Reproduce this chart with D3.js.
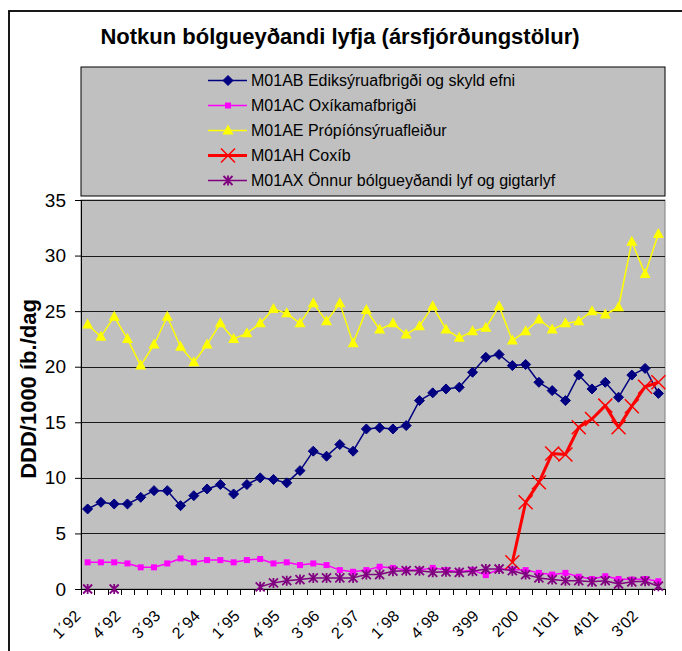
<!DOCTYPE html>
<html><head><meta charset="utf-8">
<script src="https://cdn.jsdelivr.net/npm/d3@7"></script>
<style>
html,body{margin:0;padding:0;background:#fff;}
svg{display:block;font-family:Arial,"Liberation Sans",sans-serif;}
</style></head>
<body>
<svg id="chart" width="682" height="651"></svg>
<script>
const categories = ["1´92","2´92","3´92","4´92","1´93","2´93","3´93","4´93","1´94","2´94","3´94","4´94",
  "1´95","2´95","3´95","4´95","1´96","2´96","3´96","4´96","1´97","2´97","3´97","4´97",
  "1´98","2´98","3´98","4´98","1'99","2'99","3'99","4'99","1'00","2'00","3'00","4'00",
  "1'01","2'01","3'01","4'01","1'02","2'02","3'02","4'02"];
const tickLabels = ["1´92","4´92","3´93","2´94","1´95","4´95","3´96","2´97","1´98","4´98","3'99","2'00","1'01","4'01","3'02"];
const yTicks = [0,5,10,15,20,25,30,35];

const m01ab = [7.2,7.8,7.65,7.65,8.25,8.85,8.85,7.5,8.4,9.0,9.4,8.55,9.4,10.0,9.85,9.55,10.65,12.4,11.95,13.0,12.4,14.4,14.5,14.4,
  14.7,16.95,17.65,18.0,18.15,19.5,20.85,21.1,20.1,20.2,18.6,17.85,16.95,19.25,18.0,18.6,17.25,19.25,19.85,17.6];
const m01ac = [2.4,2.4,2.4,2.3,1.95,1.95,2.3,2.75,2.4,2.6,2.6,2.4,2.6,2.7,2.3,2.4,2.15,2.3,2.15,1.7,1.55,1.7,2.0,1.9,
  1.7,1.7,1.9,1.7,1.55,1.7,1.25,1.8,1.75,1.7,1.45,1.3,1.45,1.1,0.9,1.15,0.9,0.85,0.9,0.7];
const m01ae = [23.8,22.7,24.5,22.5,20.1,22.0,24.5,21.8,20.4,22.0,23.9,22.5,23.0,23.9,25.2,24.8,23.9,25.7,24.1,25.7,22.1,25.1,23.35,23.9,
  22.9,23.65,25.45,23.35,22.6,23.2,23.5,25.45,22.35,23.2,24.25,23.35,23.9,24.1,25.0,24.7,25.35,31.25,28.35,31.95];
const m01ah = [null,null,null,null,null,null,null,null,null,null,null,null,null,null,null,null,null,null,null,null,null,null,null,null,
  null,null,null,null,null,null,null,null,2.4,7.8,9.6,12.2,12.1,14.55,15.3,16.5,14.55,16.45,18.2,18.6];
const m01ax = [0,null,0,null,null,null,null,null,null,null,null,null,null,0.2,0.55,0.75,0.85,1.0,1.0,1.0,1.0,1.3,1.3,1.6,
  1.65,1.65,1.5,1.55,1.5,1.6,1.8,1.8,1.65,1.3,1.0,0.85,0.75,0.75,0.65,0.75,0.45,0.65,0.7,0.25];

const seriesNames = ["M01AB Ediksýruafbrigði og skyld efni","M01AC Oxíkamafbrigði","M01AE Própíónsýruafleiður","M01AH Coxíb","M01AX Önnur bólgueyðandi lyf og gigtarlyf"];
const seriesColors = ["#000080","#ff00ff","#ffff00","#ff0000","#800080"];
const seriesMarkers = ["diamond","square","triangle","x","star"];
const seriesWidths = [1.5,1.5,1.5,3,1.5];
const seriesData = [m01ab,m01ac,m01ae,m01ah,m01ax];

const svg = d3.select("#chart");
const L = 81, R = 665, T = 200, B = 589;

// outer border
svg.append("rect").attr("x",9).attr("y",11).attr("width",700).attr("height",700)
  .attr("fill","#fff").attr("stroke","#000").attr("stroke-width",1.8);

// title
svg.append("text").attr("x",340).attr("y",44).attr("text-anchor","middle")
  .attr("font-weight","bold").attr("font-size",22).text("Notkun bólgueyðandi lyfja (ársfjórðungstölur)");

const x = d3.scalePoint().domain(categories).range([L,R]).padding(0.5);
const y = d3.scaleLinear().domain([0,35]).range([B,T]);
const step = x.step();

// plot area
svg.append("rect").attr("x",L).attr("y",T).attr("width",R-L).attr("height",B-T)
  .attr("fill","#c0c0c0").attr("stroke","#808080").attr("stroke-width",1);

// gridlines
svg.append("g").selectAll("line").data(yTicks.filter(d=>d>0)).join("line")
  .attr("x1",L).attr("x2",R).attr("y1",d=>Math.round(y(d))+0.5).attr("y2",d=>Math.round(y(d))+0.5)
  .attr("stroke","#1a1a1a").attr("stroke-width",1);

// y axis
const yAxis = svg.append("g").attr("transform",`translate(${L},0)`)
  .call(d3.axisLeft(y).tickValues(yTicks).tickSize(6).tickPadding(9));
yAxis.select(".domain").attr("stroke","#000");
yAxis.selectAll(".tick line").attr("stroke","#000");
yAxis.selectAll("text").attr("font-size",19).attr("font-family","Arial,'Liberation Sans',sans-serif").attr("fill","#000");

// x axis line + ticks at category boundaries
const xa = svg.append("g");
xa.append("line").attr("x1",L).attr("x2",R).attr("y1",B+0.5).attr("y2",B+0.5).attr("stroke","#000");
xa.selectAll("line.t").data(d3.range(categories.length+1)).join("line").attr("class","t")
  .attr("x1",i=>Math.round(x(categories[0]) - step/2 + i*step)+0.5)
  .attr("x2",i=>Math.round(x(categories[0]) - step/2 + i*step)+0.5)
  .attr("y1",B).attr("y2",B+6).attr("stroke","#000");
xa.selectAll("text").data(tickLabels).join("text")
  .attr("transform",d=>`translate(${x(d)-6},${B+28}) rotate(-45)`)
  .attr("text-anchor","end").attr("font-size",16).text(d=>d);

// y label
svg.append("text").attr("transform",`translate(36,389) rotate(-90)`)
  .attr("text-anchor","middle").attr("font-weight","bold").attr("font-size",22).text("DDD/1000 íb./dag");

// marker drawing
function drawMarker(g, type, color, cx, cy){
  if(type==="diamond"){
    g.append("path").attr("d",`M${cx},${cy-5}L${cx+5},${cy}L${cx},${cy+5}L${cx-5},${cy}Z`).attr("fill",color).attr("stroke",color);
  } else if(type==="square"){
    g.append("rect").attr("x",cx-3).attr("y",cy-3).attr("width",6).attr("height",6).attr("fill",color);
  } else if(type==="triangle"){
    g.append("path").attr("d",`M${cx},${cy-6}L${cx+5.5},${cy+4}L${cx-5.5},${cy+4}Z`).attr("fill",color);
  } else if(type==="x"){
    g.append("path").attr("d",`M${cx-7},${cy-7}L${cx+7},${cy+7}M${cx-7},${cy+7}L${cx+7},${cy-7}`).attr("stroke",color).attr("stroke-width",1.5);
  } else if(type==="star"){
    g.append("path").attr("d",`M${cx-4.5},${cy-4.5}L${cx+4.5},${cy+4.5}M${cx-4.5},${cy+4.5}L${cx+4.5},${cy-4.5}M${cx},${cy-5}L${cx},${cy+5}`).attr("stroke",color).attr("stroke-width",1.8);
  }
}

const line = d3.line().defined(d=>d.v!=null).x(d=>x(d.c)).y(d=>y(d.v));
seriesData.forEach((arr,si)=>{
  const pts = arr.map((v,i)=>({c:categories[i],v}));
  const g = svg.append("g");
  g.append("path").datum(pts).attr("d",line).attr("fill","none")
    .attr("stroke",seriesColors[si]).attr("stroke-width",seriesWidths[si]).attr("stroke-linejoin","round");
  pts.filter(p=>p.v!=null).forEach(p=>drawMarker(g,seriesMarkers[si],seriesColors[si],x(p.c),y(p.v)));
});

// legend
const lg = svg.append("g");
lg.append("rect").attr("x",L).attr("y",67).attr("width",R-L).attr("height",129)
  .attr("fill","#c0c0c0").attr("stroke","#000").attr("stroke-width",1);
seriesNames.forEach((name,i)=>{
  const cy = 80.5 + i*25;
  lg.append("line").attr("x1",208).attr("x2",247).attr("y1",cy).attr("y2",cy)
    .attr("stroke",seriesColors[i]).attr("stroke-width",seriesWidths[i]);
  drawMarker(lg,seriesMarkers[i],seriesColors[i],228,cy);
  lg.append("text").attr("x",251).attr("y",cy+5.5).attr("font-size",16).text(name);
});
</script>
</body></html>
